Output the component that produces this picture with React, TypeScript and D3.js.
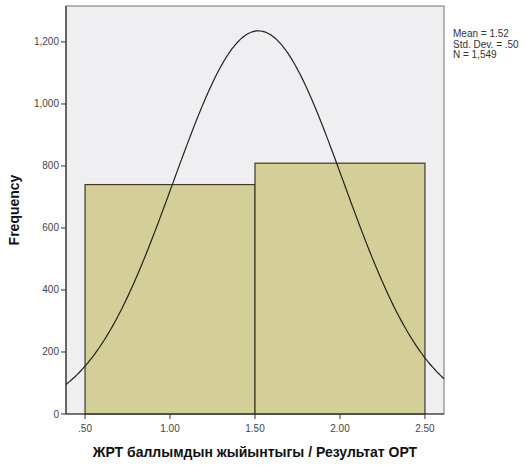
import React from "react";
import * as d3 from "d3";

const binStarts = [0.5, 1.5];
const binEnds = [1.5, 2.5];
const counts = [740, 809];
const xTicks = [0.5, 1.0, 1.5, 2.0, 2.5];
const xTickLabels = [".50", "1.00", "1.50", "2.00", "2.50"];
const yTicks = [0, 200, 400, 600, 800, 1000, 1200];
const yTickLabels = ["0", "200", "400", "600", "800", "1,000", "1,200"];
const statsLines = ["Mean = 1.52", "Std. Dev. = .50", "N = 1,549"];
const mean = 1.52;
const sd = 0.5;
const n = 1549;
const binWidth = 1;

export default function App() {
  const W = 527, H = 466;
  const left = 66, right = 444, top = 6, bottom = 414;
  const x = d3.scaleLinear().domain([0.388, 2.612]).range([left, right]);
  const y = d3.scaleLinear().domain([0, 1316]).range([bottom, top]);
  const pdf = (v: number) => (n * binWidth / (sd * Math.sqrt(2 * Math.PI))) * Math.exp(-0.5 * ((v - mean) / sd) ** 2);
  const xs = d3.range(0, 201).map((i) => 0.388 + (i / 200) * (2.612 - 0.388));
  const line = d3.line<number>().x((v) => x(v)).y((v) => y(pdf(v))).curve(d3.curveBasis);
  const font = "Arial, 'Liberation Sans', sans-serif";
  return (
    <svg width={W} height={H} style={{ position: "absolute", left: 0, top: 0 }}>
      <rect x={0} y={0} width={W} height={H} fill="#fff" />
      <rect x={left} y={top} width={right - left} height={bottom - top} fill="#efeff1" stroke="#888" strokeWidth={1.2} />
      {counts.map((c, i) => (
        <rect key={i} x={x(binStarts[i])} y={y(c)} width={x(binEnds[i]) - x(binStarts[i])} height={bottom - y(c)}
          fill="#d4cf98" stroke="#3a3a2a" strokeWidth={1.2} />
      ))}
      <path d={line(xs) || ""} fill="none" stroke="#222" strokeWidth={1.2} />
      <line x1={left} x2={left} y1={top} y2={bottom} stroke="#333" strokeWidth={1.2} />
      <line x1={left} x2={right} y1={bottom} y2={bottom} stroke="#333" strokeWidth={1.2} />
      {yTicks.map((t, i) => (
        <g key={t}>
          <line x1={left - 5} x2={left} y1={y(t)} y2={y(t)} stroke="#333" />
          <text x={left - 7} y={y(t) + 3.5} textAnchor="end" fontSize={10} fontFamily={font} fill="#444">{yTickLabels[i]}</text>
        </g>
      ))}
      {xTicks.map((t, i) => (
        <g key={t}>
          <line x1={x(t)} x2={x(t)} y1={bottom} y2={bottom + 5} stroke="#333" />
          <text x={x(t)} y={bottom + 18} textAnchor="middle" fontSize={10} fontFamily={font} fill="#444">{xTickLabels[i]}</text>
        </g>
      ))}
      <text x={255} y={457} textAnchor="middle" fontSize={14} fontWeight="bold" fontFamily={font} fill="#111">ЖРТ баллымдын жыйынтыгы / Результат ОРТ</text>
      <text transform={`translate(19,${210}) rotate(-90)`} textAnchor="middle" fontSize={14} fontWeight="bold" fontFamily={font} fill="#111">Frequency</text>
      {statsLines.map((s, i) => (
        <text key={i} x={453} y={37 + i * 10.5} fontSize={10} fontFamily={font} fill="#333">{s}</text>
      ))}
    </svg>
  );
}
